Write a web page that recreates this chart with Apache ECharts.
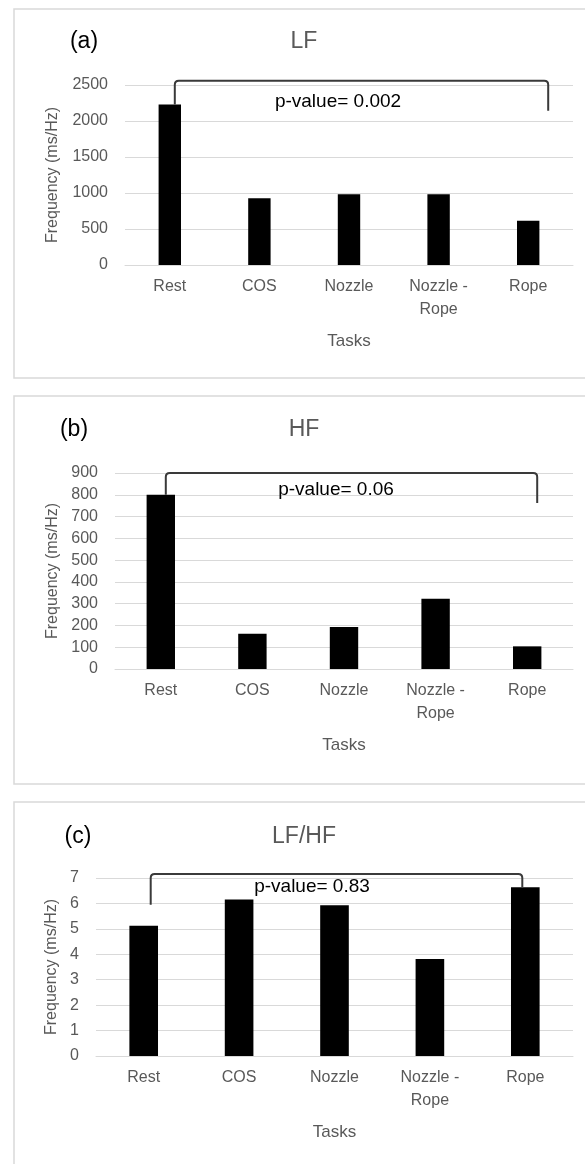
<!DOCTYPE html>
<html>
<head>
<meta charset="utf-8">
<script src="https://cdn.jsdelivr.net/npm/echarts@6/dist/echarts.min.js"></script>
<style>
html, body { margin: 0; padding: 0; background: #fff; }
#main { width: 585px; height: 1164px; }
</style>
</head>
<body>
<div id="main"></div>
<script>
const tasks = ['Rest', 'COS', 'Nozzle', 'Nozzle -\nRope', 'Rope'];
const lfValues = [2230, 926, 981, 981, 616];
const hfValues = [800, 162, 193, 323, 104];
const ratioValues = [5.12, 6.15, 5.93, 3.81, 6.64];

// bracket: [from task, to task, top, left end, right end]
const lfBracket = [0, 4, 2560, 2230, 2144];
const hfBracket = [0, 4, 900, 800, 762];
const ratioBracket = [0, 4, 7.16, 5.95, 6.64];
const pLabels = ['p-value= 0.002', 'p-value= 0.06', 'p-value= 0.83'];

const yMax = [2500, 900, 7];
const yStep = [500, 100, 1];
const panelTags = ['(a)', '(b)', '(c)'];
const panelTitles = ['LF', 'HF', 'LF/HF'];

const grey = '#595959';
const lineGrey = '#d9d9d9';
const font = 'Liberation Sans, Arial, sans-serif';

// layout for each panel
const panels = [
    {values: lfValues, bracket: lfBracket, box: [9, 369], grid: {left: 125, top: 85, height: 180},
     barWidth: '25%', legs: [5, 20], nameGap: 64, tag: [84, 42], title: [304, 42], p: [338, 102]},
    {values: hfValues, bracket: hfBracket, box: [396, 388], grid: {left: 115, top: 473, height: 196},
     barWidth: '31%', legs: [5, 10], nameGap: 54, tag: [74, 430], title: [304, 430], p: [336, 490]},
    {values: ratioValues, bracket: ratioBracket, box: [802, 380], grid: {left: 96, top: 878, height: 178},
     barWidth: '30%', legs: [7, -3], nameGap: 35, tag: [78, 837], title: [304, 837], p: [312, 887]},
];

function bracketItem(legs) {
    return function (params, api) {
        const l = api.coord([api.value(0), api.value(3)]);
        const r = api.coord([api.value(1), api.value(4)]);
        const top = api.coord([api.value(0), api.value(2)])[1];
        const x1 = l[0] + legs[0];
        const x2 = r[0] + legs[1];
        const rad = 4;
        const d = 'M' + x1 + ' ' + l[1] + ' L' + x1 + ' ' + (top + rad) +
            ' Q' + x1 + ' ' + top + ' ' + (x1 + rad) + ' ' + top +
            ' L' + (x2 - rad) + ' ' + top +
            ' Q' + x2 + ' ' + top + ' ' + x2 + ' ' + (top + rad) +
            ' L' + x2 + ' ' + r[1];
        return {
            type: 'path',
            shape: {pathData: d},
            style: {fill: 'none', stroke: '#3a3a3a', lineWidth: 2},
        };
    };
}

const grids = [], xAxes = [], yAxes = [], series = [], graphics = [];
panels.forEach((p, i) => {
    grids.push({left: p.grid.left, right: 12, top: p.grid.top, height: p.grid.height});
    xAxes.push({
        type: 'category',
        gridIndex: i,
        data: tasks,
        axisTick: {show: false},
        axisLine: {lineStyle: {color: lineGrey, width: 1}},
        axisLabel: {color: grey, fontSize: 16, lineHeight: 23, margin: 10, fontFamily: font},
        name: 'Tasks',
        nameLocation: 'middle',
        nameGap: 68,
        nameTextStyle: {color: grey, fontSize: 17, fontFamily: font},
    });
    yAxes.push({
        type: 'value',
        gridIndex: i,
        min: 0,
        max: yMax[i],
        interval: yStep[i],
        axisLine: {show: false},
        axisTick: {show: false},
        splitLine: {lineStyle: {color: lineGrey, width: 1}},
        axisLabel: {color: grey, fontSize: 16, margin: 17, fontFamily: font, formatter: v => String(v)},
        name: 'Frequency (ms/Hz)',
        nameLocation: 'middle',
        nameRotate: 90,
        nameGap: p.nameGap,
        nameTextStyle: {color: grey, fontSize: 16, fontFamily: font},
    });
    series.push({
        type: 'bar',
        xAxisIndex: i,
        yAxisIndex: i,
        data: p.values,
        barWidth: p.barWidth,
        itemStyle: {color: '#000'},
        silent: true,
    });
    series.push({
        type: 'custom',
        xAxisIndex: i,
        yAxisIndex: i,
        data: [p.bracket],
        encode: {x: [0, 1], y: [2, 3, 4]},
        renderItem: bracketItem(p.legs),
        clip: false,
        silent: true,
        z: 5,
    });
    graphics.push({
        type: 'rect',
        shape: {x: 14, y: p.box[0], width: 600, height: p.box[1]},
        style: {fill: 'none', stroke: lineGrey, lineWidth: 1.5},
    });
    graphics.push({
        type: 'text', x: p.tag[0], y: p.tag[1],
        style: {text: panelTags[i], fill: '#000', font: '23px ' + font, textAlign: 'center', textVerticalAlign: 'middle'},
    });
    graphics.push({
        type: 'text', x: p.title[0], y: p.title[1],
        style: {text: panelTitles[i], fill: grey, font: '23px ' + font, textAlign: 'center', textVerticalAlign: 'middle'},
    });
    graphics.push({
        type: 'text', x: p.p[0], y: p.p[1], z: 10,
        style: {text: pLabels[i], fill: '#000', font: '19px ' + font, textAlign: 'center', textVerticalAlign: 'middle'},
    });
});

option = {
    backgroundColor: '#fff',
    animation: false,
    grid: grids,
    xAxis: xAxes,
    yAxis: yAxes,
    series: series,
    graphic: graphics,
};

dom = document.getElementById('main');
chart = echarts.init(dom);
chart.setOption(option);
</script>
</body>
</html>
